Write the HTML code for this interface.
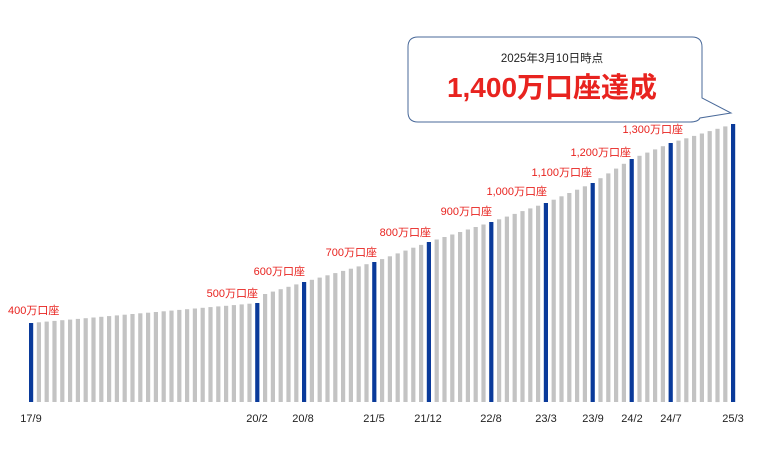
<!DOCTYPE html>
<html><head><meta charset="utf-8"><style>
html,body{margin:0;padding:0;background:#fff;width:759px;height:453px;overflow:hidden}
svg{display:block}
.l{font-family:"Liberation Sans","Noto Sans CJK JP",sans-serif;font-size:11px;fill:#e8231f}
.t{font-family:"Liberation Sans","Noto Sans CJK JP",sans-serif;font-size:11px;fill:#222}
</style></head><body>
<svg id="s" width="759" height="453" xmlns="http://www.w3.org/2000/svg">
<g id="bars"></g>
<path d="M418,37 H692 Q702,37 702,47 V98 L731,113 L700,118 Q698,122 690,122 H418 Q408,122 408,112 V47 Q408,37 418,37 Z" fill="#fff" stroke="#4a6a9a" stroke-width="1"/>
<text x="552" y="62" text-anchor="middle" class="t" style="font-size:11.5px">2025年3月10日時点</text>
<text x="552" y="97" text-anchor="middle" style="font-family:'Liberation Sans','Noto Sans CJK JP',sans-serif;font-size:28px;font-weight:bold;fill:#e8231f">1,400万口座達成</text>
<text x="8" y="314" class="l">400万口座</text>
<text x="258" y="297" text-anchor="end" class="l">500万口座</text>
<text x="305" y="275" text-anchor="end" class="l">600万口座</text>
<text x="377" y="256" text-anchor="end" class="l">700万口座</text>
<text x="431" y="236" text-anchor="end" class="l">800万口座</text>
<text x="492" y="215" text-anchor="end" class="l">900万口座</text>
<text x="547" y="195" text-anchor="end" class="l">1,000万口座</text>
<text x="592" y="176" text-anchor="end" class="l">1,100万口座</text>
<text x="631" y="156" text-anchor="end" class="l">1,200万口座</text>
<text x="683" y="133" text-anchor="end" class="l">1,300万口座</text>
<g class="t" text-anchor="middle">
<text x="31" y="422" class="t">17/9</text>
<text x="257" y="422" class="t">20/2</text>
<text x="303" y="422" class="t">20/8</text>
<text x="374" y="422" class="t">21/5</text>
<text x="428" y="422" class="t">21/12</text>
<text x="491" y="422" class="t">22/8</text>
<text x="546" y="422" class="t">23/3</text>
<text x="593" y="422" class="t">23/9</text>
<text x="632" y="422" class="t">24/2</text>
<text x="671" y="422" class="t">24/7</text>
<text x="733" y="422" class="t">25/3</text>
</g>
</svg>
<script>
var k=[[0,323],[29,303],[30,294],[35,282],[44,262],[51,242],[59,222],[66,203],[72,183],[77,159],[82,143],[90,124]];
var blue={0:1,29:1,35:1,44:1,51:1,59:1,66:1,72:1,77:1,82:1,90:1};
var g=document.getElementById('bars'),h='';
for(var i=0;i<=90;i++){var y;for(var j=0;j<k.length-1;j++){if(i>=k[j][0]&&i<=k[j+1][0]){y=k[j][1]+(k[j+1][1]-k[j][1])*(i-k[j][0])/(k[j+1][0]-k[j][0]);break;}}
var x=31+i*(702/90);
h+='<rect x="'+(x-2).toFixed(2)+'" y="'+y.toFixed(1)+'" width="4.2" height="'+(402-y).toFixed(1)+'" fill="'+(blue[i]?'#0a3a9a':'#c3c3c3')+'"/>';}
g.innerHTML=h;
</script>
</body></html>
